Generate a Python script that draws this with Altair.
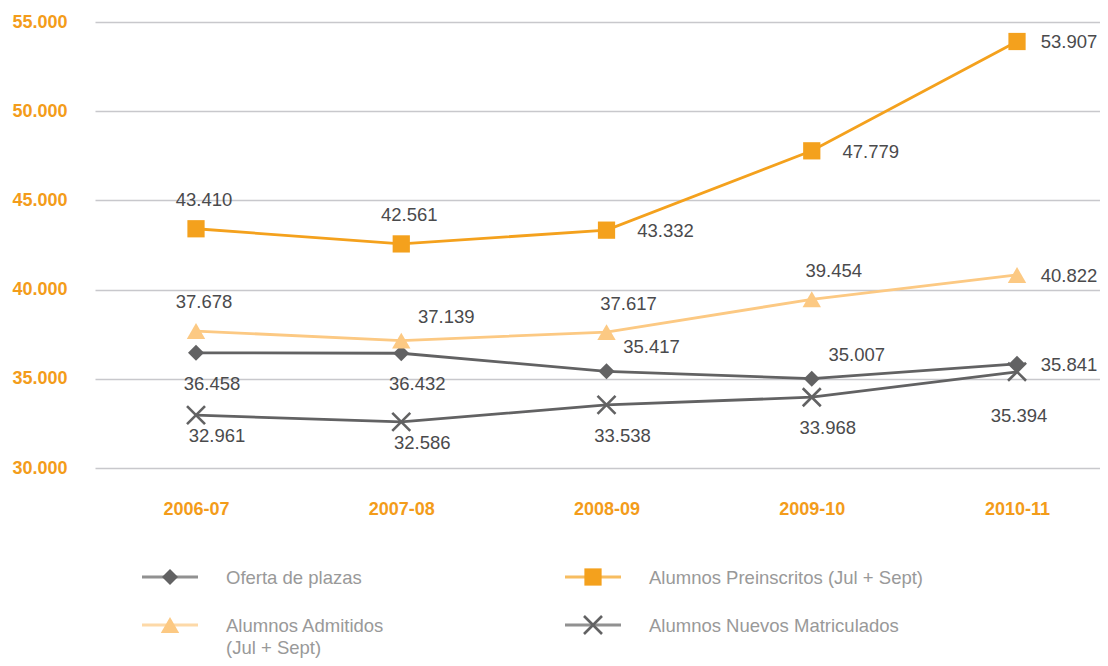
import altair as alt
import pandas as pd

# ---------------- data ----------------
YEARS = ["2006-07", "2007-08", "2008-09", "2009-10", "2010-11"]
SERIES = [
    "Oferta de plazas",
    "Alumnos Preinscritos (Jul + Sept)",
    "Alumnos Admitidos (Jul + Sept)",
    "Alumnos Nuevos Matriculados",
]
OFERTA = [36458, 36432, 35417, 35007, 35841]
PREINSCRITOS = [43410, 42561, 43332, 47779, 53907]
ADMITIDOS = [37678, 37139, 37617, 39454, 40822]
NUEVOS = [32961, 32586, 33538, 33968, 35394]
Y_TICKS = [30000, 35000, 40000, 45000, 50000, 55000]

LEGEND_LABELS = [
    "Oferta de plazas",
    "Alumnos Preinscritos (Jul + Sept)",
    "Alumnos Admitidos\n(Jul + Sept)",
    "Alumnos Nuevos Matriculados",
]
LEGEND_COL = [0, 1, 0, 1]
LEGEND_ROW = [0, 0, 1, 1]

# where each value label sits relative to its point (named placements)
PLACE_OFERTA = ["S", "S", "ENE", "ENE", "E_EDGE"]
PLACE_PREINSCRITOS = ["N", "N", "E", "E", "E_EDGE"]
PLACE_ADMITIDOS = ["N", "ENE", "NE", "NE", "E_EDGE"]
PLACE_NUEVOS = ["SE", "SE", "S", "S", "SS"]

# ---------------- style ----------------
FONT = "Liberation Sans, Arial, Helvetica, sans-serif"
ORANGE_AXIS = "#F39C1A"
COLORS = ["#626263", "#F4A11D", "#FCC983", "#626263"]
X_PATH = "M-1,-1L1,1M-1,1L1,-1"
SHAPES = ["diamond", "square", "triangle-up", X_PATH]
SIZES = [256, 380, 324, 324]
PLACEMENTS = {
    "N": (8, -29),
    "NE": (22, -28),
    "ENE": (45, -24),
    "E": (59, 1),
    "E_EDGE": (52, 1),
    "S": (16, 31),
    "SE": (21, 21),
    "SS": (2, 44),
}

values = [OFERTA, PREINSCRITOS, ADMITIDOS, NUEVOS]
places = [PLACE_OFERTA, PLACE_PREINSCRITOS, PLACE_ADMITIDOS, PLACE_NUEVOS]
rows = []
for s, vals, pl in zip(SERIES, values, places):
    for y, v, p in zip(YEARS, vals, pl):
        rows.append({"year": y, "series": s, "value": v,
                     "label": f"{v:,}".replace(",", "."), "place": p})
df = pd.DataFrame(rows)

leg = pd.DataFrame({"series": SERIES, "label": LEGEND_LABELS,
                    "col": LEGEND_COL, "row": LEGEND_ROW})

color = alt.Color("series:N", scale=alt.Scale(domain=SERIES, range=COLORS), legend=None)
shape = alt.Shape("series:N", scale=alt.Scale(domain=SERIES, range=SHAPES), legend=None)
size = alt.Size("series:N", scale=alt.Scale(domain=SERIES, range=SIZES), legend=None)

x = alt.X("year:N", sort=YEARS,
          scale=alt.Scale(type="point", padding=0.4482, align=0.549),
          axis=alt.Axis(title=None, domain=False, ticks=False, tickSize=0, grid=False,
                        labelAngle=0, labelPadding=32, labelFont=FONT, labelFontSize=18,
                        labelFontWeight="bold", labelColor=ORANGE_AXIS))
y = alt.Y("value:Q",
          scale=alt.Scale(domain=[Y_TICKS[0], Y_TICKS[-1]], nice=False, zero=False),
          axis=alt.Axis(title=None, values=Y_TICKS, domain=False, ticks=False, tickSize=0,
                        labelExpr="replace(format(datum.value, ','), ',', '.')",
                        labelPadding=28, labelFont=FONT, labelFontSize=18,
                        labelFontWeight="bold", labelColor=ORANGE_AXIS,
                        grid=True, gridColor="#c8c8cc", gridWidth=1.5))

base = alt.Chart(df)
lines = base.mark_line(strokeWidth=2.8).encode(x=x, y=y, color=color, detail="series:N")
filled_pts = base.transform_filter(
    alt.datum.series != SERIES[3]
).mark_point(filled=True, opacity=1).encode(x=x, y=y, color=color, shape=shape, size=size)
x_pts = base.transform_filter(
    alt.datum.series == SERIES[3]
).mark_point(shape=X_PATH, filled=False, opacity=1, size=SIZES[3], strokeWidth=2.6).encode(
    x=x, y=y, color=color)

texts = []
for name, (dx, dy) in PLACEMENTS.items():
    texts.append(
        base.transform_filter(alt.datum.place == name)
        .mark_text(font=FONT, fontSize=18.5, color="#4a4a4c", dx=dx, dy=dy,
                   align="center", baseline="middle")
        .encode(x=x, y=y, text="label:N")
    )

main = alt.layer(lines, filled_pts, x_pts, *texts)

# ---------------- legend ----------------
lx = alt.X("col:Q", scale=alt.Scale(domain=[0, 1], range=[75, 498]), axis=None)
ly = alt.Y("row:Q", scale=alt.Scale(domain=[0, 1], range=[555, 603]), axis=None)
lbase = alt.Chart(leg)
leg_lines = lbase.mark_tick(orient="horizontal", size=56, thickness=3).encode(
    x=lx, y=ly, color=color)
leg_filled = lbase.transform_filter(
    alt.datum.series != SERIES[3]
).mark_point(filled=True, opacity=1).encode(x=lx, y=ly, color=color, shape=shape, size=size)
leg_x = lbase.transform_filter(
    alt.datum.series == SERIES[3]
).mark_point(shape=X_PATH, filled=False, opacity=1, size=SIZES[3], strokeWidth=2.6).encode(
    x=lx, y=ly, color=color)
leg_text = lbase.mark_text(font=FONT, fontSize=18.5, color="#999999", align="left",
                           baseline="top", dx=56, dy=-8, lineBreak="\n",
                           lineHeight=22).encode(x=lx, y=ly, text="label:N")
legend = alt.layer(leg_lines, leg_filled, leg_x, leg_text)

chart = alt.layer(main, legend).resolve_scale(x="independent", y="independent").properties(
    width=1005, height=446,
    autosize=alt.AutoSizeParams(type="none"),
    padding={"left": 87, "top": 14, "right": 0, "bottom": 190},
).configure_view(stroke=None)

chart.save("out.html", embed_options={"renderer": "svg", "actions": False})
